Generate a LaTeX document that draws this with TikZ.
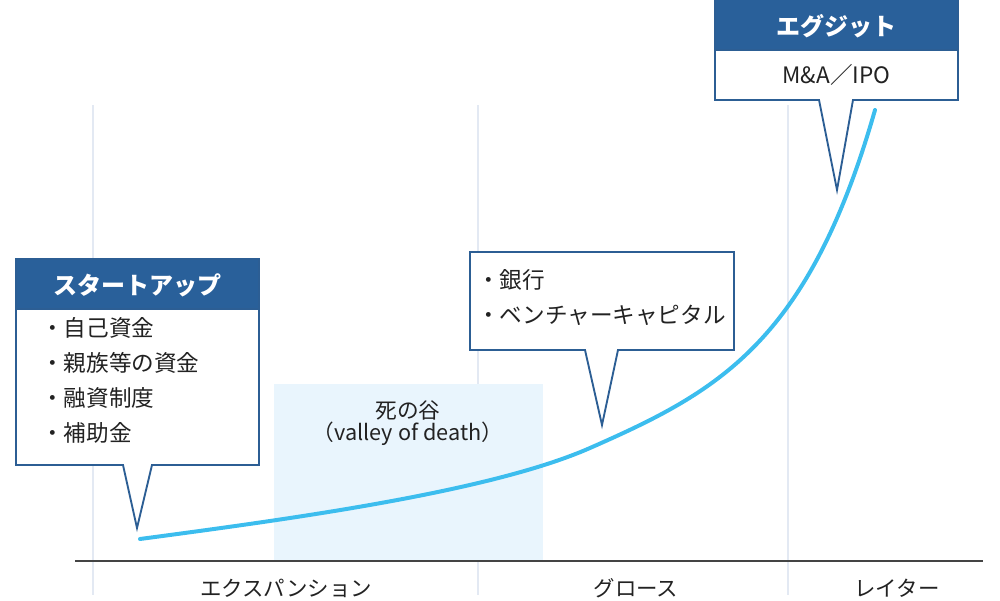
\documentclass[tikz,border=0pt]{standalone}
\usepackage{fontspec}
\setmainfont{Noto Sans CJK JP}
\definecolor{hdrblue}{HTML}{29609A}
\definecolor{bordblue}{HTML}{2C5E94}
\definecolor{curveblue}{HTML}{3CBDEE}
\definecolor{valleyfill}{HTML}{E9F5FD}
\definecolor{gridc}{HTML}{E3E9F3}
\definecolor{txt}{HTML}{222222}
\definecolor{axisc}{HTML}{444444}
\tikzset{
  bubble/.style={draw=bordblue, line width=1.6pt, fill=white, line join=miter},
  header/.style={draw=bordblue, line width=1.6pt, fill=hdrblue},
  hdrtext/.style={text=white, font=\fontsize{20.5pt}{24pt}\selectfont\bfseries, inner sep=0pt},
  bodytext/.style={text=txt, font=\fontsize{19.3pt}{29.8pt}\selectfont, inner sep=0pt, align=left},
  axislabel/.style={text=txt, font=\fontsize{18.3pt}{20pt}\selectfont, inner sep=0pt},
  valleytext/.style={text=txt, font=\fontsize{18.5pt}{20pt}\selectfont, inner sep=0pt},
  gridline/.style={draw=gridc, line width=1.2pt},
}
\begin{document}
\begin{tikzpicture}[x=0.03cm, y=-0.03cm]
\useasboundingbox (0,0) rectangle (1000,601);
% grid lines
\foreach \gx in {93,478,788} \draw[gridline] (\gx,105) -- (\gx,595);
% valley of death
\fill[valleyfill] (274,384) rectangle (543,561);
\node[valleytext] (vtitle) at (408,410) {死の谷};
\node[valleytext] (vsub) at (408,434) {（valley of death）};
% axis
\draw[axisc, line width=1.3pt] (75,561) -- (983,561);
% curve
\coordinate (cs) at (140,539);
\coordinate (cm) at (590,448);
\coordinate (ce) at (875,110);
\draw[curveblue, line width=3.4pt, line cap=round]
  (cs) .. controls (290,519) and (490,492) .. (cm)
       .. controls (717,392) and (808,344) .. (ce);
% startup bubble
\coordinate (t1) at (137,528);
\draw[bubble] (16,259) -- (259,259) -- (259,465) -- (152,465) -- (t1) -- (123,465) -- (16,465) -- cycle;
\draw[header] (16,259) rectangle (259,309);
\node[hdrtext] (h1) at (137.5,285) {スタートアップ};
\node[bodytext, anchor=north west] (b1) at (41,317) {・自己資金\\・親族等の資金\\・融資制度\\・補助金};
% bank bubble
\coordinate (t2) at (602,425);
\draw[bubble] (470,252) -- (734,252) -- (734,350) -- (618,350) -- (t2) -- (585,350) -- (470,350) -- cycle;
\node[bodytext, anchor=north west] (b2) at (477,269) {・銀行\\・ベンチャーキャピタル};
% exit bubble
\coordinate (t3) at (837,190);
\draw[bubble] (715,-5) -- (958,-5) -- (958,100) -- (853,100) -- (t3) -- (819,100) -- (715,100) -- cycle;
\draw[header] (715,-5) rectangle (958,50);
\node[hdrtext] (h3) at (836.5,26) {エグジット};
\node[bodytext] (b3) at (836.5,75) {M\&A／IPO};
% axis labels
\node[axislabel] (l1) at (286,588) {エクスパンション};
\node[axislabel] (l2) at (636,588) {グロース};
\node[axislabel] (l3) at (897,588) {レイター};
\end{tikzpicture}
\end{document}
